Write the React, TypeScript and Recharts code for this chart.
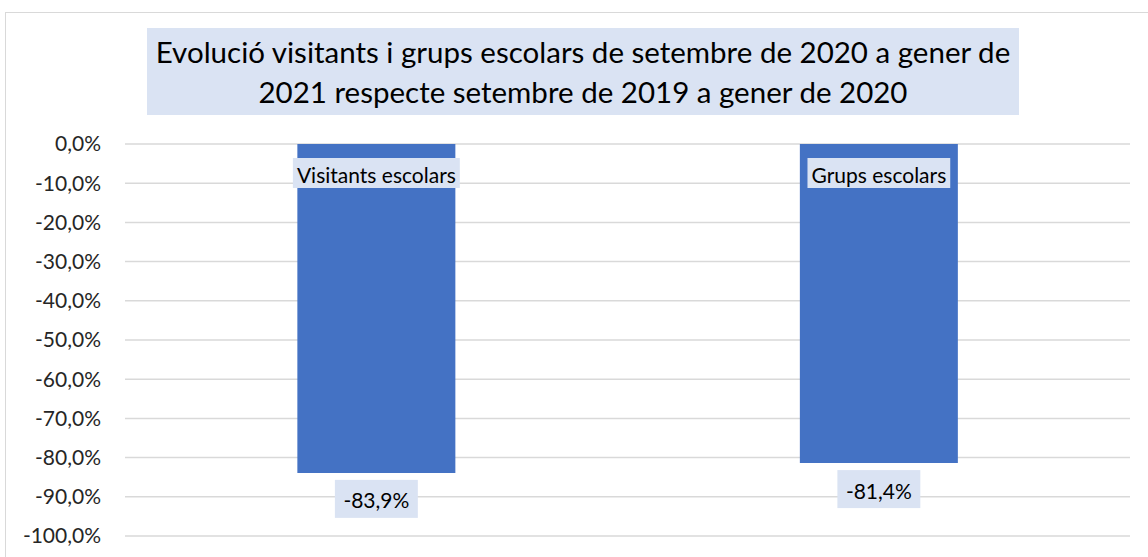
import React from "react";
import { BarChart, Bar, XAxis, YAxis, CartesianGrid, LabelList } from "recharts";

const categories = ["Visitants escolars", "Grups escolars"];
const changes = [-83.9, -81.4];
const yTicks = [0, -10, -20, -30, -40, -50, -60, -70, -80, -90, -100];
const titleLines = [
  "Evolució visitants i grups escolars de setembre de 2020 a gener de",
  "2021 respecte setembre de 2019 a gener de 2020",
];

const data = categories.map((name, i) => ({ name, value: changes[i] }));

const FONT = "Lato, 'Open Sans', sans-serif";
const BOX = "#dae3f3";
const LABEL_SIZE = 21;
const pct = (v: number) => `${v.toFixed(1).replace(".", ",")}%`;

let ctx: CanvasRenderingContext2D | null = null;
function textWidth(s: string, size: number) {
  if (!ctx) ctx = document.createElement("canvas").getContext("2d");
  if (!ctx) return s.length * size * 0.5;
  ctx.font = `${size}px Lato`;
  return ctx.measureText(s).width;
}

function CategoryLabel(props: any) {
  const { x, y, width, height, value } = props;
  const top = Math.min(y, y + height);
  const cx = x + width / 2;
  const cy = top + 29;
  const w = textWidth(String(value), LABEL_SIZE) + 8;
  return (
    <g>
      <rect x={cx - w / 2} y={cy - 15} width={w} height={30} fill={BOX} />
      <text x={cx} y={cy + 1} textAnchor="middle" dominantBaseline="central" fontSize={LABEL_SIZE} fontFamily={FONT} fill="#000">
        {value}
      </text>
    </g>
  );
}

function ValueLabel(props: any) {
  const { x, y, width, height, value } = props;
  const bottom = Math.max(y, y + height);
  const cx = x + width / 2;
  const cy = bottom + 26;
  const s = pct(value);
  const w = textWidth(s, LABEL_SIZE) + 17;
  return (
    <g>
      <rect x={cx - w / 2} y={cy - 19} width={w} height={38} fill={BOX} />
      <text x={cx} y={cy + 1} textAnchor="middle" dominantBaseline="central" fontSize={LABEL_SIZE} fontFamily={FONT} fill="#000">
        {s}
      </text>
    </g>
  );
}

export default function App() {
  return (
    <div style={{ position: "absolute", left: 0, top: 0, width: 1148, height: 557, background: "#fff", fontFamily: FONT }}>
      <div style={{ position: "absolute", left: 5, top: 12, right: -2, bottom: -2, borderTop: "1.5px solid #d9d9d9", borderLeft: "1.5px solid #d9d9d9" }} />
      <div
        style={{
          position: "absolute",
          left: 147,
          top: 28,
          width: 872,
          height: 87,
          background: BOX,
          display: "flex",
          flexDirection: "column",
          justifyContent: "center",
          alignItems: "center",
          fontSize: 29.5,
          lineHeight: "40px",
          color: "#000",
          whiteSpace: "nowrap",
        }}
      >
        {titleLines.map((t) => (
          <div key={t}>{t}</div>
        ))}
      </div>
      <div style={{ position: "absolute", left: 0, top: 0 }}>
        <BarChart width={1148} height={557} data={data} margin={{ top: 144, right: 18, bottom: 21, left: 0 }} barCategoryGap="34.3%">
          <CartesianGrid stroke="#d9d9d9" strokeWidth={1.5} vertical={false} />
          <XAxis dataKey="name" hide />
          <YAxis
            domain={[-100, 0]}
            ticks={yTicks}
            width={125}
            axisLine={false}
            tickLine={false}
            tickMargin={18}
            tickFormatter={pct}
            tick={{ fill: "#262626", fontSize: LABEL_SIZE, fontFamily: FONT }}
            interval={0}
          />
          <Bar dataKey="value" fill="#4472c4" isAnimationActive={false}>
            <LabelList dataKey="name" content={CategoryLabel} />
            <LabelList dataKey="value" content={ValueLabel} />
          </Bar>
        </BarChart>
      </div>
    </div>
  );
}
